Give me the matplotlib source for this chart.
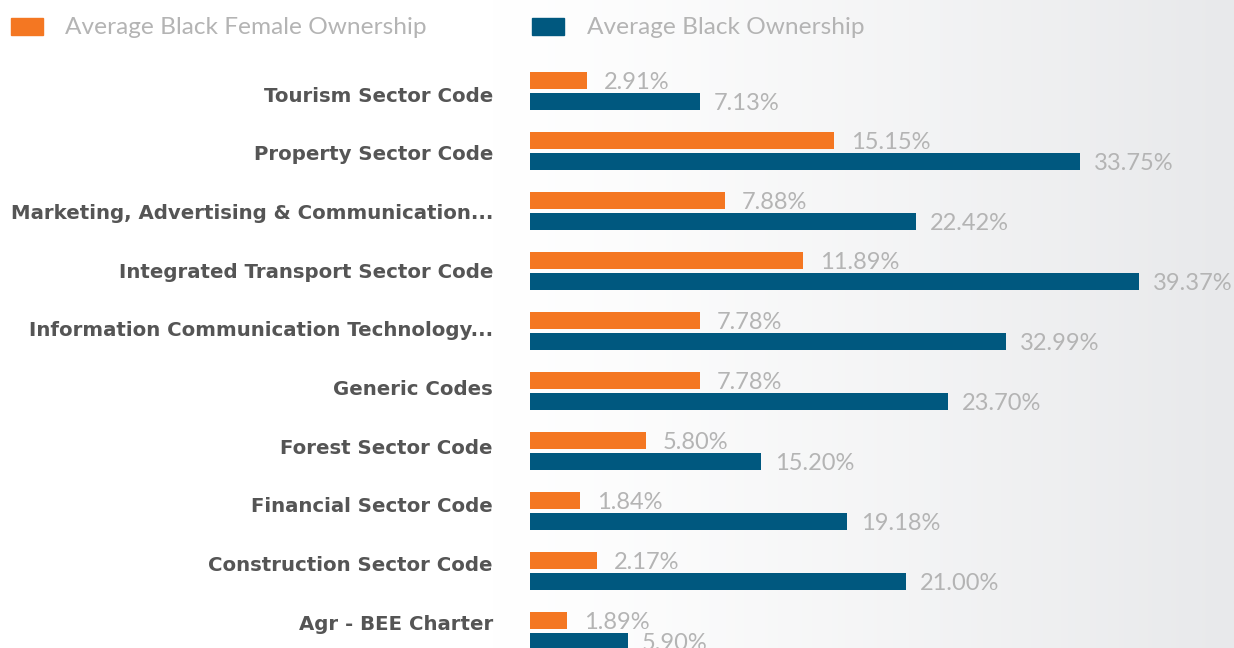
import numpy as np
import matplotlib
matplotlib.use("Agg")
import matplotlib.pyplot as plt
from matplotlib.patches import Rectangle

# ---- data ----
categories = [
    "Tourism Sector Code",
    "Property Sector Code",
    "Marketing, Advertising & Communication...",
    "Integrated Transport Sector Code",
    "Information Communication Technology...",
    "Generic Codes",
    "Forest Sector Code",
    "Financial Sector Code",
    "Construction Sector Code",
    "Agr - BEE Charter",
]
female_labels = ["2.91%", "15.15%", "7.88%", "11.89%", "7.78%", "7.78%", "5.80%", "1.84%", "2.17%", "1.89%"]
black_labels = ["7.13%", "33.75%", "22.42%", "39.37%", "32.99%", "23.70%", "15.20%", "19.18%", "21.00%", "5.90%"]
# bar lengths as drawn in the reference (relative display units)
female_len = [57, 304, 195, 273, 170, 170, 116, 50, 67, 37]
black_len = [170, 550, 386, 609, 476, 418, 231, 317, 376, 98]
series_names = ["Average Black Female Ownership", "Average Black Ownership"]

ORANGE = "#F47722"
BLUE = "#00587F"
VAL_GRAY = "#b4b4b4"
CAT_GRAY = "#555555"

W, H = 1234, 648
fig = plt.figure(figsize=(W / 100, H / 100), dpi=100)

# background gradient
bg = fig.add_axes([0, 0, 1, 1], zorder=-10)
xs = np.linspace(0, 1, 600)
start = 0.40
t = np.clip((xs - start) / (1 - start), 0, 1) ** 1.2
c0 = np.array([1.0, 1.0, 1.0])
c1 = np.array([0xe8, 0xe9, 0xeb]) / 255
grad = c0[None, :] * (1 - t[:, None]) + c1[None, :] * t[:, None]
bg.imshow(grad[None, :, :], aspect="auto", extent=[0, 1, 0, 1])
bg.set_axis_off()

# bars
ax = fig.add_axes([530 / W, 0, 704 / W, 1])
ax.set_facecolor("none")
n = len(categories)
y = np.arange(n)
pitch = 59.9
first_center = 91.5
h = 17 / pitch
off = 10.5 / pitch
ax.barh(y - off, female_len, height=h, color=ORANGE)
ax.barh(y + off, black_len, height=h, color=BLUE)
ax.set_xlim(0, 704)
ax.set_ylim((H - first_center) / pitch, -first_center / pitch)

vfont = dict(family="Lato", fontsize=17, color=VAL_GRAY)
for i in range(n):
    ax.text(female_len[i] + 17, y[i] - off + h / 2, female_labels[i],
            va="baseline", ha="left", clip_on=False, **vfont)
    ax.text(black_len[i] + 14, y[i] + off + h / 2, black_labels[i],
            va="baseline", ha="left", clip_on=False, **vfont)
ax.set_xticks([])
ax.set_yticks([])
for s in ax.spines.values():
    s.set_visible(False)

# overlay for category labels and legend (pixel coordinates)
lg = fig.add_axes([0, 0, 1, 1], zorder=5)
lg.set_xlim(0, W)
lg.set_ylim(H, 0)
lg.set_axis_off()
lg.patch.set_alpha(0)

label_pitch = 58.67
for i, c in enumerate(categories):
    lg.text(493, 94 + label_pitch * i, c, ha="right", va="center_baseline",
            family="DejaVu Sans", weight="bold", fontsize=14.2, color=CAT_GRAY)

lg.add_patch(Rectangle((11, 18), 32, 16.5, color=ORANGE))
lg.add_patch(Rectangle((532, 18), 32, 16.5, color=BLUE))
lfont = dict(family="Lato", fontsize=17.6, color=VAL_GRAY)
lg.text(65, 34.5, series_names[0], va="baseline", ha="left", **lfont)
lg.text(587, 34.5, series_names[1], va="baseline", ha="left", **lfont)

fig.savefig("out.png", dpi=100)
